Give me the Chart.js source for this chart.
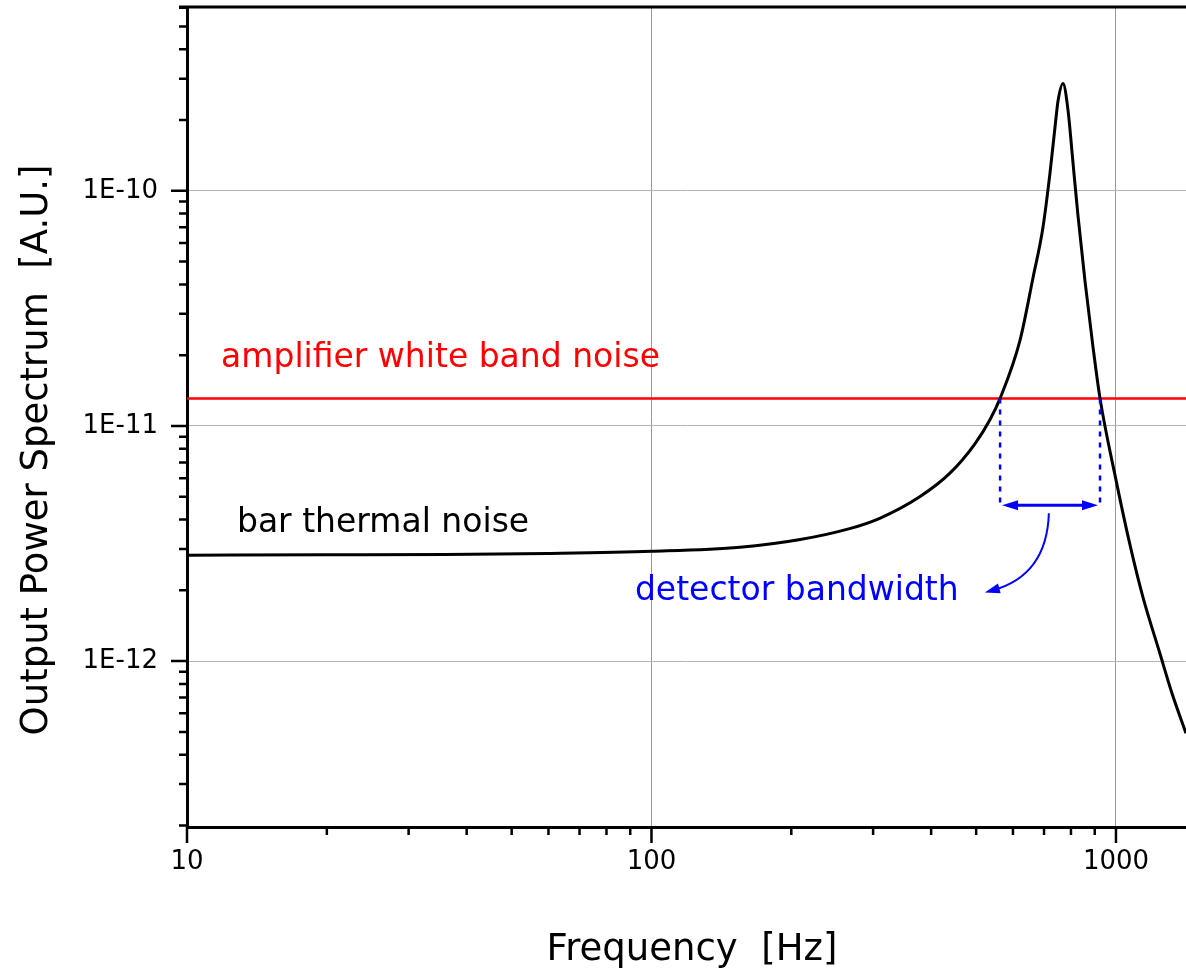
<!DOCTYPE html>
<html>
<head>
<meta charset="utf-8">
<script src="https://cdn.jsdelivr.net/npm/chart.js@4/dist/chart.umd.min.js"></script>
<style>
  html, body { margin: 0; padding: 0; background: #fff; }
  #chart { display: block; }
</style>
</head>
<body>
<canvas id="chart" width="1186" height="971"></canvas>
<script>
// values (Hz, A.U.)
const freq = [10, 20, 36, 60, 100, 155, 209, 267, 310, 378, 439, 497, 535, 563,
  621, 663, 696, 721, 743, 750, 769, 788, 808, 828, 858, 892, 924,
  1000, 1072, 1143, 1243, 1320, 1415];
const psd = [2.82e-12, 2.83e-12, 2.84e-12, 2.87e-12, 2.93e-12, 3.05e-12, 3.29e-12, 3.66e-12, 4.05e-12,
  5.0e-12, 6.3e-12, 8.4e-12, 1.06e-11, 1.31e-11,
  2.3e-11, 4.28e-11, 6.95e-11, 1.19e-10, 2.05e-10, 2.4e-10, 2.86e-10, 2.22e-10, 1.32e-10,
  7.9e-11, 4.1e-11, 2.18e-11, 1.31e-11,
  5.9e-12, 3.12e-12, 1.87e-12, 1.08e-12, 7.3e-13, 4.93e-13];

const noiseLevel = 1.31e-11;       // amplifier white band noise
const bandEdges = [563, 924];      // where the curve crosses the noise level
const bandArrowLevel = 4.6e-12;

const xRange = [10, 1415];
const yRange = [1.97e-13, 6.05e-10];

const FONT = '"Comic Sans MS", "DejaVu Sans", sans-serif';
Chart.defaults.font.family = FONT;
Chart.defaults.color = '#000';

const isMajor = v => Math.abs(Math.log10(v) - Math.round(Math.log10(v))) < 1e-6;

// 1..9 x 10^n values inside a scale's range
function logTicks(scale) {
  const out = [];
  const e0 = Math.floor(Math.log10(scale.min)), e1 = Math.ceil(Math.log10(scale.max));
  for (let e = e0; e <= e1; e++) {
    for (let s = 1; s <= 9; s++) {
      const v = s * Math.pow(10, e);
      if (v >= scale.min * 0.999 && v <= scale.max * 1.001) out.push({ v, major: s === 1 });
    }
  }
  return out;
}

// outward tick marks, titles, annotations
const decorations = {
  id: 'decorations',
  afterDraw(chart) {
    const { ctx, chartArea: a, scales: { x, y } } = chart;
    const px = v => x.getPixelForValue(v);
    const py = v => y.getPixelForValue(v);
    ctx.save();

    // top frame line
    ctx.strokeStyle = '#000';
    ctx.lineWidth = 3;
    ctx.beginPath();
    ctx.moveTo(a.left - 8, a.top);
    ctx.lineTo(a.right, a.top);
    ctx.stroke();

    ctx.lineWidth = 2.5;
    ctx.beginPath();
    logTicks(y).forEach(t => {
      const len = t.major ? 16 : 8;
      ctx.moveTo(a.left - len, py(t.v)); ctx.lineTo(a.left, py(t.v));
    });
    logTicks(x).forEach(t => {
      const len = t.major ? 16 : 8;
      ctx.moveTo(px(t.v), a.bottom); ctx.lineTo(px(t.v), a.bottom + len);
    });
    ctx.stroke();

    // axis titles
    ctx.fillStyle = '#000';
    ctx.font = '37px ' + FONT;
    ctx.textAlign = 'center';
    ctx.textBaseline = 'alphabetic';
    ctx.fillText('Frequency  [Hz]', 692, 960);
    ctx.save();
    ctx.translate(47, 450);
    ctx.rotate(-Math.PI / 2);
    ctx.fillText('Output Power Spectrum  [A.U.]', 0, 0);
    ctx.restore();

    // text labels
    ctx.textAlign = 'left';
    ctx.font = '33px ' + FONT;
    ctx.fillStyle = '#ff0000';
    ctx.fillText('amplifier white band noise', px(11.84), py(1.773e-11));
    ctx.fillStyle = '#000';
    ctx.fillText('bar thermal noise', px(12.81), py(3.526e-12));
    ctx.fillStyle = '#0000ff';
    ctx.fillText('detector bandwidth', px(92.1), py(1.813e-12));

    // detector bandwidth marker
    const x1 = px(bandEdges[0]), x2 = px(bandEdges[1]);
    const yTop = py(noiseLevel), yArr = py(bandArrowLevel);
    ctx.strokeStyle = '#0000ff';
    ctx.fillStyle = '#0000ff';
    ctx.lineWidth = 2.5;
    ctx.setLineDash([5, 6]);
    ctx.beginPath();
    ctx.moveTo(x1, yTop); ctx.lineTo(x1, yArr);
    ctx.moveTo(x2, yTop); ctx.lineTo(x2, yArr);
    ctx.stroke();
    ctx.setLineDash([]);

    const head = (tx, ty, dx, dy, len, half) => {
      const d = Math.hypot(dx, dy), ux = dx / d, uy = dy / d;
      ctx.beginPath();
      ctx.moveTo(tx, ty);
      ctx.lineTo(tx - ux * len - uy * half, ty - uy * len + ux * half);
      ctx.lineTo(tx - ux * len + uy * half, ty - uy * len - ux * half);
      ctx.closePath();
      ctx.fill();
    };
    ctx.lineWidth = 3;
    ctx.beginPath();
    ctx.moveTo(x1 + 10, yArr); ctx.lineTo(x2 - 10, yArr);
    ctx.stroke();
    head(x1 + 2, yArr, -1, 0, 16, 5);
    head(x2 - 2, yArr, 1, 0, 16, 5);

    // curved pointer to the label
    const sx = px(717), sy = py(4.25e-12);
    const ex = px(522), ey = py(1.96e-12);
    const cx = sx - 2, cy = ey - 17;
    ctx.lineWidth = 2;
    ctx.beginPath();
    ctx.moveTo(sx, sy);
    ctx.quadraticCurveTo(cx, cy, ex + 8, ey - 2);
    ctx.stroke();
    head(ex, ey, ex - cx, ey - cy, 15, 5);

    ctx.restore();
  }
};

new Chart(document.getElementById('chart'), {
  type: 'line',
  data: {
    datasets: [
      {
        data: freq.map((f, i) => ({ x: f, y: psd[i] })),
        borderColor: '#000', borderWidth: 3, pointRadius: 0,
        cubicInterpolationMode: 'monotone', fill: false,
      },
      {
        data: [{ x: xRange[0], y: noiseLevel }, { x: xRange[1], y: noiseLevel }],
        borderColor: '#ff0000', borderWidth: 2.5, pointRadius: 0, fill: false,
      },
    ],
  },
  options: {
    responsive: false, animation: false,
    layout: { padding: { top: 7, left: 0, right: 0, bottom: 0 } },
    plugins: { legend: { display: false }, tooltip: { enabled: false } },
    scales: {
      x: {
        type: 'logarithmic', min: xRange[0], max: xRange[1],
        afterFit: s => { s.height = 144; s.paddingLeft = 0; s.paddingRight = 0; },
        border: { display: true, color: '#000', width: 3 },
        grid: {
          color: c => (c.tick && isMajor(c.tick.value) ? '#999' : 'transparent'),
          tickColor: 'transparent', tickLength: 16, lineWidth: 1,
        },
        ticks: {
          autoSkip: false, maxRotation: 0, padding: 4, font: { size: 26 },
          callback: v => (isMajor(v) ? String(Math.round(v)) : null),
        },
      },
      y: {
        type: 'logarithmic', min: yRange[0], max: yRange[1],
        afterFit: s => { s.width = 187; s.paddingTop = 0; s.paddingBottom = 0; },
        border: { display: true, color: '#000', width: 3 },
        grid: {
          color: c => (c.tick && isMajor(c.tick.value) ? '#b4b4b4' : 'transparent'),
          tickColor: 'transparent', tickLength: 16, lineWidth: 1,
        },
        ticks: {
          autoSkip: false, padding: 13, font: { size: 26 },
          callback: v => (isMajor(v) ? '1E' + Math.round(Math.log10(v)) : null),
        },
      },
    },
  },
  plugins: [decorations],
});
</script>
</body>
</html>
